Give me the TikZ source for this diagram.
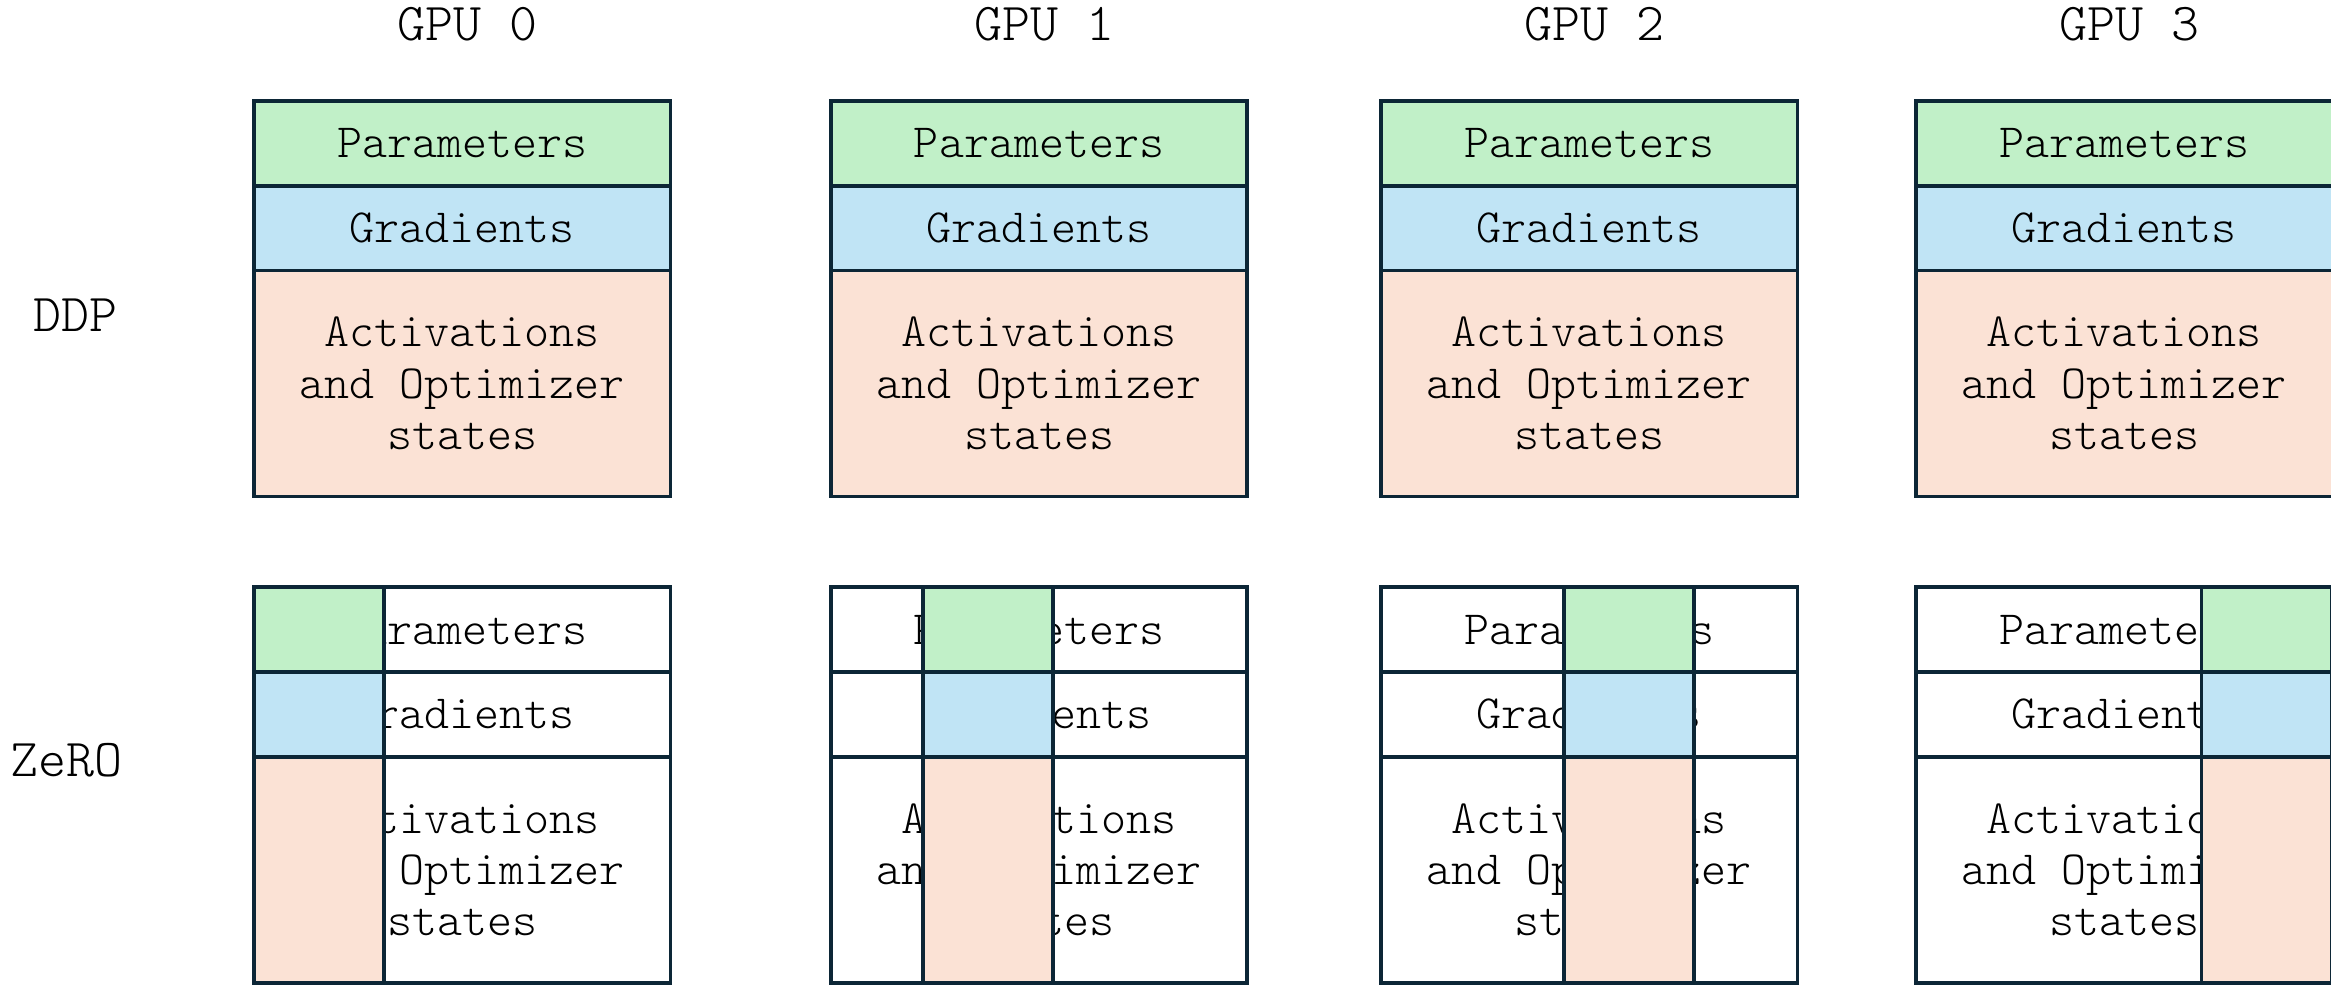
\documentclass[tikz,border=0pt]{standalone}
\usepackage{fontspec}
\setmonofont{lmmonolt10-regular.otf}
\definecolor{edge}{HTML}{0C2636}
\definecolor{paramfill}{HTML}{C1F0C8}
\definecolor{gradfill}{HTML}{C0E4F5}
\definecolor{actfill}{HTML}{FBE2D5}

\begin{document}
\begin{tikzpicture}[x=0.3pt, y=-0.3pt,
  cell/.style={draw=edge, line width=1.1pt, inner sep=0pt, outer sep=0pt,
    minimum width=124.9pt, align=center, text=black,
    font=\ttfamily\fontsize{14.3}{15.4}\selectfont},
  slice/.style={cell, minimum width=39pt},
  rowp/.style={minimum height=25.4pt},
  rowg/.style={minimum height=25.45pt},
  rowa/.style={minimum height=67.8pt},
  heading/.style={inner sep=0pt, text=black, font=\ttfamily\fontsize{16}{19}\selectfont}]
\useasboundingbox (0,0) rectangle (2331,987);
\clip (0,0) rectangle (2331,987);

% row headings
\node[heading] (ddp) at (75.8,315.2) {DDP};
\node[heading] (zero) at (66.9,759.7) {ZeRO};

% one column per GPU: left edge of the box and left edge of its ZeRO slice
\foreach \i/\x/\s in {0/254.2/254.2, 1/831.0/923.2, 2/1381.1/1563.9, 3/1916.2/2201.6} {
  \node[heading] (gpu\i) at ({\x+213},23.8) {GPU \i};

  % DDP: every GPU holds the full state
  \node[cell, rowp, fill=paramfill] (d\i p) at ({\x+208.1},143.5) {Parameters};
  \node[cell, rowg, fill=gradfill]  (d\i g) at ({\x+208.1},228.2) {Gradients};
  \node[cell, rowa, fill=actfill]   (d\i a) at ({\x+208.1},383.6) {Activations\\and Optimizer\\states};

  % ZeRO: full layout, with only one shard kept on each GPU
  \node[cell, rowp, fill=white] (z\i p) at ({\x+208.1},629.6) {Parameters};
  \node[cell, rowg, fill=white] (z\i g) at ({\x+208.1},714.4) {Gradients};
  \node[cell, rowa, fill=white] (z\i a) at ({\x+208.1},869.7) {Activations\\and Optimizer\\states};

  \node[slice, rowp, fill=paramfill] (s\i p) at ({\s+65},629.6) {};
  \node[slice, rowg, fill=gradfill]  (s\i g) at ({\s+65},714.4) {};
  \node[slice, rowa, fill=actfill]   (s\i a) at ({\s+65},869.7) {};
}
\end{tikzpicture}
\end{document}
